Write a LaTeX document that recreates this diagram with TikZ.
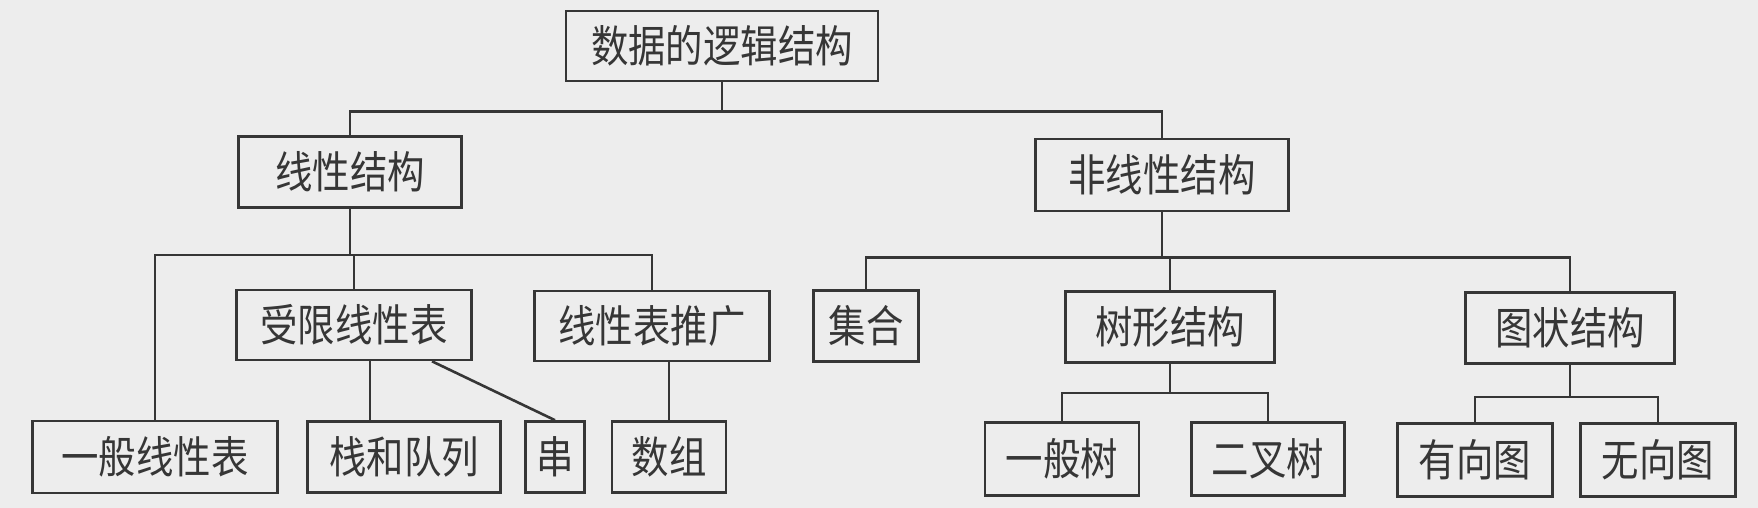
\documentclass[tikz,border=0pt]{standalone}
\usepackage{fontspec}
\newfontfamily\cjk[FakeStretch=0.85]{Noto Sans CJK SC}

\definecolor{paper}{HTML}{EDEDED}
\definecolor{ink}{HTML}{363636}

\begin{document}
\begin{tikzpicture}[x=0.5pt,y=-0.5pt,
  box/.style={draw=ink, line width=1.3pt, text=ink, inner sep=0pt,
    font=\cjk\fontsize{22}{22}\selectfont},
  link/.style={draw=ink, line width=1.3pt}]

\fill[paper] (0,0) rectangle (1758,508);

\node[box, minimum width=156pt, minimum height=35pt] (root) at (722,46) {数据的逻辑结构};

\node[box, minimum width=111.5pt, minimum height=35.5pt] (lin) at (350,172) {线性结构};
\node[box, minimum width=126.5pt, minimum height=36pt] (non) at (1162,175) {非线性结构};

\node[box, minimum width=117.5pt, minimum height=35pt] (lim) at (354,325) {受限线性表};
\node[box, minimum width=117.5pt, minimum height=35pt] (ext) at (652,326) {线性表推广};
\node[box, minimum width=52.5pt, minimum height=35.5pt] (set) at (866,326) {集合};
\node[box, minimum width=104.5pt, minimum height=35.5pt] (tree) at (1170,327) {树形结构};
\node[box, minimum width=104.5pt, minimum height=35.5pt] (graph) at (1570,328) {图状结构};

\node[box, minimum width=122.5pt, minimum height=36pt] (gen) at (155,457) {一般线性表};
\node[box, minimum width=96.5pt, minimum height=35.5pt] (stk) at (404,457) {栈和队列};
\node[box, minimum width=29.5pt, minimum height=35.5pt] (str) at (555,457) {串};
\node[box, minimum width=57pt, minimum height=35.5pt] (arr) at (669,457) {数组};
\node[box, minimum width=77pt, minimum height=36.5pt] (gtree) at (1062,459) {一般树};
\node[box, minimum width=76.5pt, minimum height=36.5pt] (btree) at (1268,459) {二叉树};
\node[box, minimum width=77.5pt, minimum height=36.5pt] (dg) at (1475,460) {有向图};
\node[box, minimum width=77.5pt, minimum height=36.5pt] (ug) at (1658,460) {无向图};

\draw[link] (root.south) -- ++(0,29) -| (lin.north);
\draw[link] (root.south) -- ++(0,29) -| (non.north);

\draw[link] (lin.south) -- ++(0,46) -| (gen.north);
\draw[link] (lin.south) -- ++(0,46) -| (lim.north);
\draw[link] (lin.south) -- ++(0,46) -| (ext.north);

\draw[link] (non.south) -- ++(0,45) -| (set.north);
\draw[link] (non.south) -- ++(0,45) -| (tree.north);
\draw[link] (non.south) -- ++(0,45) -| (graph.north);

\draw[link] ([xshift=8pt]lim.south) -- ([xshift=8pt]lim.south |- stk.north);
\draw[link] ([xshift=39pt]lim.south) -- (str.north);
\draw[link] (arr.north) -- (arr.north |- ext.south);

\draw[link] (tree.south) -- ++(0,29) -| (gtree.north);
\draw[link] (tree.south) -- ++(0,29) -| (btree.north);

\draw[link] (graph.south) -- ++(0,32) -| (dg.north);
\draw[link] (graph.south) -- ++(0,32) -| (ug.north);

\end{tikzpicture}
\end{document}
